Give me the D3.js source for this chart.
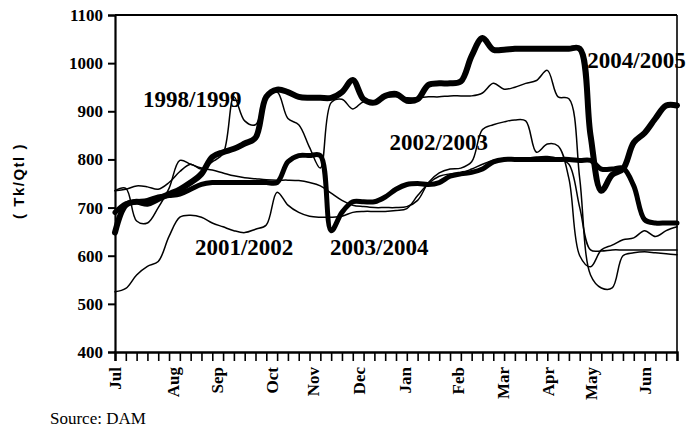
<!DOCTYPE html>
<html>
<head>
<meta charset="utf-8">
<script src="https://cdn.jsdelivr.net/npm/d3@7"></script>
<style>
  body { margin: 0; background: #fff; }
  svg text { fill: #000; }
</style>
</head>
<body>
<div id="chart"></div>
<script>
// weekly prices, Jul (week 0) to end of Jun (week 52), Tk/Qtl
var weeks = d3.range(53);

var p1998 = [735,738,745,743,738,752,775,790,780,795,812,930,880,872,930,940,885,872,825,782,
             918,925,905,920,918,928,930,928,928,930,930,932,932,932,938,958,946,950,958,964,
             985,930,926,760,560,533,533,600,606,608,606,604,602];
var p2001 = [525,532,560,578,588,640,680,684,680,668,660,652,648,655,664,732,705,690,682,680,
             680,682,690,692,692,692,694,698,725,750,765,770,772,780,790,798,800,800,802,805,
             806,802,790,700,612,610,612,612,612,612,612,612,612];
var p2002 = [735,740,672,668,700,740,798,790,782,778,772,766,762,760,758,757,757,756,752,745,
             730,715,705,702,700,700,700,702,715,752,772,780,782,795,862,872,878,882,880,815,
             832,828,760,600,577,612,622,633,637,652,640,652,660];
var p2003 = [690,708,712,715,722,725,728,738,748,752,752,752,752,752,752,752,795,808,808,808,
             652,690,712,712,712,722,738,748,750,748,752,765,770,773,780,795,800,800,800,800,
             800,800,800,798,798,780,780,782,745,675,668,668,668];
var p2004 = [648,705,712,708,718,728,738,752,770,805,815,822,833,845,930,945,940,930,928,928,
             928,940,965,925,918,932,936,922,925,955,958,958,962,1015,1052,1028,1028,1030,1030,1030,
             1030,1030,1030,1030,850,735,768,780,835,855,885,912,912];

var seriesNames = ["1998/1999", "2001/2002", "2002/2003", "2003/2004", "2004/2005"];
var seriesValues = [p1998, p2001, p2002, p2003, p2004];
var lineWidths = [1.5, 1.5, 1.5, 5, 6];

// where each name is written, in (week, price)
var labelWeek = [2.6, 7.4, 25.4, 19.9, 43.7];
var labelPrice = [909, 601, 820, 601, 990];

var monthNames = ["Jul","Aug","Sep","Oct","Nov","Dec","Jan","Feb","Mar","Apr","May","Jun"];
var monthWeek = [0, 5.3, 9.4, 14.5, 18.3, 22.5, 26.8, 31.7, 35.9, 40, 44, 49];
var priceTicks = [400, 500, 600, 700, 800, 900, 1000, 1100];

var WIDTH = 697, HEIGHT = 428;
var plotLeft = 115, plotRight = 677, plotTop = 15, plotBottom = 352;

var svg = d3.select("#chart").append("svg")
    .attr("width", WIDTH)
    .attr("height", HEIGHT);

var x = d3.scaleLinear().domain([0, 52]).range([plotLeft, plotRight]);
var y = d3.scaleLinear().domain([400, 1100]).range([plotBottom, plotTop]);

// frame top and right
svg.append("line").attr("x1", plotLeft).attr("x2", plotRight).attr("y1", plotTop).attr("y2", plotTop)
    .attr("stroke", "#000").attr("stroke-width", 2.2);
svg.append("line").attr("x1", plotRight).attr("x2", plotRight).attr("y1", plotTop).attr("y2", plotBottom)
    .attr("stroke", "#000").attr("stroke-width", 1.6);

// lines
var line = d3.line()
    .x(function(d, i) { return x(weeks[i]); })
    .y(function(d) { return y(d); })
    .curve(d3.curveCatmullRom.alpha(0.5));

svg.selectAll("path.series")
    .data(seriesValues)
    .enter()
    .append("path")
    .attr("class", "series")
    .attr("d", line)
    .attr("fill", "none")
    .attr("stroke", "#000")
    .attr("stroke-linejoin", "round")
    .attr("stroke-linecap", "round")
    .attr("stroke-width", function(d, i) { return lineWidths[i]; });

// y axis
var yAxis = svg.append("g")
    .attr("transform", "translate(" + plotLeft + ",0)")
    .call(d3.axisLeft(y).tickValues(priceTicks).tickSize(7).tickPadding(5).tickFormat(d3.format("d")));
yAxis.select(".domain").attr("stroke-width", 2.2);
yAxis.selectAll(".tick line").attr("stroke-width", 2);
yAxis.selectAll("text")
    .style("font-family", "'Liberation Serif', serif")
    .style("font-weight", "bold")
    .style("font-size", "17px");

// x axis: weekly ticks
var xAxis = svg.append("g")
    .attr("transform", "translate(0," + plotBottom + ")")
    .call(d3.axisBottom(x).tickValues(weeks).tickSize(9).tickFormat(""));
xAxis.select(".domain").attr("stroke-width", 2.4);
xAxis.selectAll(".tick line").attr("stroke-width", 1.6);

// month labels
var xLabels = svg.append("g")
    .attr("transform", "translate(0," + plotBottom + ")")
    .call(d3.axisBottom(x).tickValues(monthWeek).tickSize(0)
        .tickFormat(function(d, i) { return monthNames[i]; }));
xLabels.select(".domain").remove();
xLabels.selectAll("text")
    .attr("transform", "rotate(-90)")
    .attr("x", -15)
    .attr("y", 0)
    .attr("dy", "0.35em")
    .style("text-anchor", "end")
    .style("font-family", "'Liberation Serif', serif")
    .style("font-weight", "bold")
    .style("font-size", "17px");

// series names
svg.selectAll("text.name")
    .data(seriesNames)
    .enter()
    .append("text")
    .attr("class", "name")
    .attr("x", function(d, i) { return x(labelWeek[i]); })
    .attr("y", function(d, i) { return y(labelPrice[i]); })
    .style("font-family", "'Liberation Serif', serif")
    .style("font-weight", "bold")
    .style("font-size", "23px")
    .text(function(d) { return d; });

// axis title
svg.append("text")
    .attr("transform", "translate(24,181) rotate(-90)")
    .style("text-anchor", "middle")
    .style("font-family", "'Liberation Sans', Arial, sans-serif")
    .style("font-weight", "bold")
    .style("font-size", "15px")
    .style("letter-spacing", "1.5px")
    .text("( Tk/Qtl )");

svg.append("text")
    .attr("x", 50)
    .attr("y", 424)
    .style("font-family", "'Liberation Serif', serif")
    .style("font-size", "17px")
    .text("Source: DAM");
</script>
</body>
</html>
